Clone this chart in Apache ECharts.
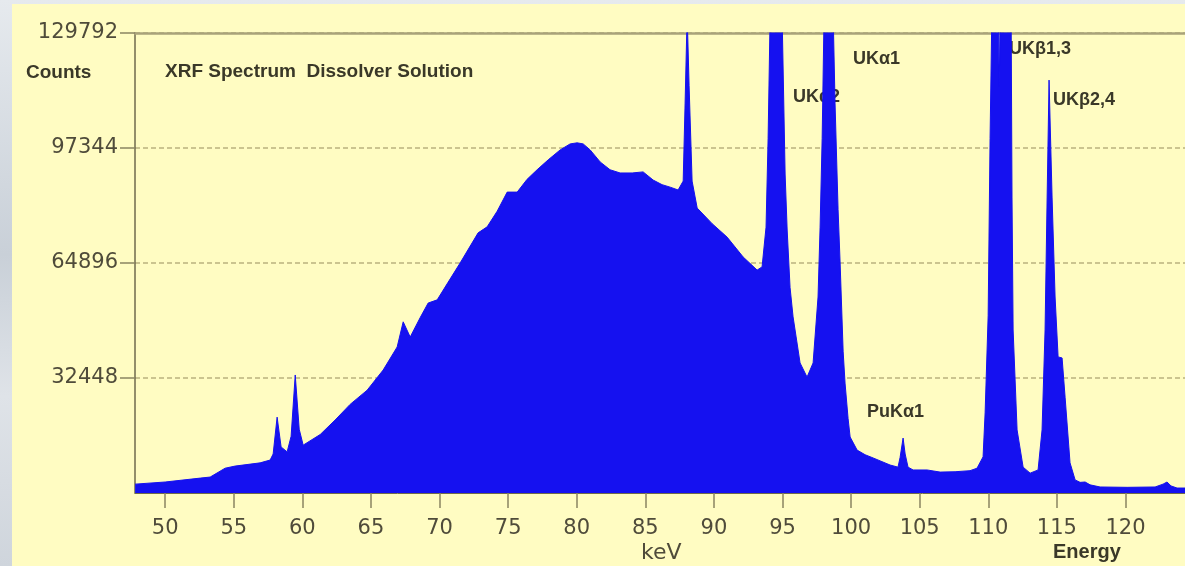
<!DOCTYPE html>
<html>
<head>
<meta charset="utf-8">
<script src="https://cdn.jsdelivr.net/npm/echarts@6/dist/echarts.min.js"></script>
<style>
  html, body { margin: 0; padding: 0; width: 1185px; height: 566px; overflow: hidden;
    background: linear-gradient(180deg, #e6eaee 0%, #c9d0d8 45%, #dfe3e8 70%, #cfd5dc 100%); }
  #panel { position: absolute; left: 12px; top: 4px; right: 0; bottom: 0; background: #fffcc2; }
  #chart { position: absolute; left: 0; top: 0; width: 1185px; height: 566px; }
</style>
</head>
<body>
<div id="panel"></div>
<div id="chart"></div>
<script>
// ---- data ----
const energyKeV = [
  47.81, 50.0, 52.55, 53.28, 54.37, 55.10, 56.92, 57.65, 57.87, 58.16, 58.45, 58.89, 59.18, 59.48, 59.77,
  60.06, 61.30, 62.39, 63.48, 64.72, 65.89, 66.91, 67.35, 67.86, 68.59, 69.17, 69.83, 70.63, 71.50,
  72.81, 73.47, 74.20, 74.93, 75.66, 76.38, 77.11, 77.92, 78.79, 79.52, 80.03, 80.47, 80.98, 81.71,
  82.43, 83.16, 84.04, 84.84, 85.57, 86.22, 86.81, 87.39, 87.76, 87.90, 88.05, 88.19, 88.41, 88.78,
  89.87, 90.96, 92.13, 93.15, 93.51, 93.80, 93.95, 94.10, 94.53, 94.97, 95.19, 95.34, 95.55, 95.77,
  96.28, 96.79, 97.23, 97.59, 97.74, 97.89, 98.03, 98.25, 98.61, 98.83, 99.05, 99.20, 99.42, 99.56,
  99.78, 99.93, 100.44, 101.02, 101.60, 102.84, 103.42, 103.57, 103.79, 103.94, 104.15, 104.52,
  105.54, 106.49, 107.58, 108.67, 109.18, 109.62, 109.77, 109.99, 110.13, 110.28, 110.57, 110.72, 110.80,
  110.88, 111.01, 111.37, 111.66, 111.73, 111.81, 112.10, 112.54, 113.05, 113.63, 113.92, 114.14, 114.29,
  114.43, 114.65, 114.87, 115.09, 115.38, 115.60, 115.96, 116.33, 116.69, 117.06, 117.42, 118.15,
  120.12, 122.16, 122.74, 123.03, 123.32, 123.76, 124.34
];
const counts = [
  2500, 3100, 4200, 4500, 7000, 7600, 8500, 9300, 11000, 21400, 13000, 11600, 16000, 33300, 18000,
  13500, 16500, 20600, 25000, 29000, 34700, 41200, 48300, 44000, 49500, 53600, 54500, 59500, 64900,
  73400, 75100, 79500, 84900, 84900, 88500, 91200, 94000, 96800, 98500, 98800, 98500, 96800, 93400,
  91200, 90300, 90300, 90600, 88300, 87000, 86300, 85500, 88000, 110000, 135000, 115000, 88000, 80400,
  76000, 72200, 66600, 62900, 63800, 75000, 100000, 135000, 160000, 135000, 90000, 74200, 58000, 49700,
  36700, 32700, 36700, 55300, 75000, 100000, 135000, 180000, 150000, 110000, 80000, 64900, 40000, 31000,
  21000, 15800, 12100, 10800, 9900, 7900, 7300, 10000, 15500, 11000, 7300, 6500,
  6500, 5900, 6000, 6300, 7000, 10200, 22600, 50000, 100000, 140000, 150000, 140000, 114600,
  140000, 150000, 170000, 140000, 83500, 46000, 17800, 7300, 5600, 6500, 17800, 46000, 83500,
  116500, 83500, 55300, 38400, 38100, 27000, 8500, 3700, 3000, 3100, 2300, 1700,
  1600, 1700, 2500, 3100, 2000, 1400, 1400
];
const xTickValues = [50, 55, 60, 65, 70, 75, 80, 85, 90, 95, 100, 105, 110, 115, 120];
const yTickValues = [32448, 64896, 97344, 129792];
const yMax = 129792;
const yStep = 32448;
const peakLabels = [
  { text: 'UK\u03b11',   left: 853,  top: 50 },
  { text: 'UK\u03b12',   left: 793,  top: 88 },
  { text: 'UK\u03b21,3', left: 1009, top: 40 },
  { text: 'UK\u03b22,4', left: 1053, top: 91 },
  { text: 'PuK\u03b11',  left: 867,  top: 403 }
];

const seriesData = energyKeV.map((e, i) => [e, counts[i]]);

const chart = echarts.init(document.getElementById('chart'), null, { renderer: 'canvas' });
const axisCol = '#6f6a4c';
const gridCol = '#cbc48f';
const labelCol = '#4f4b3a';

const graphicEls = [
  { type: 'text', left: 26, top: 63, z: 1,
    style: { text: 'Counts', font: 'bold 19px "Liberation Sans", Arial, sans-serif', fill: '#3a3828' } },
  { type: 'text', left: 165, top: 62, z: 1,
    style: { text: 'XRF Spectrum  Dissolver Solution', font: 'bold 19px "Liberation Sans", Arial, sans-serif', fill: '#3a3828' } },
  { type: 'text', left: 641, top: 542, z: 1,
    style: { text: 'keV', font: '22px "DejaVu Sans", Verdana, sans-serif', fill: labelCol } },
  { type: 'text', left: 1053, top: 542, z: 1,
    style: { text: 'Energy', font: 'bold 20px "Liberation Sans", Arial, sans-serif', fill: '#3a3828' } }
];
peakLabels.forEach(p => graphicEls.push({
  type: 'text', left: p.left, top: p.top, z: 1,
  style: { text: p.text, font: 'bold 18px "Liberation Sans", Arial, sans-serif', fill: '#3a3828' }
}));

chart.setOption({
  backgroundColor: 'transparent',
  animation: false,
  grid: { left: 135, top: 33, right: 0, bottom: 73, show: false },
  xAxis: [{
    type: 'value',
    min: 47.8,
    max: 124.34,
    position: 'bottom',
    axisLine: { show: true, lineStyle: { color: axisCol, width: 1 } },
    axisTick: { show: true, length: 15, customValues: xTickValues, lineStyle: { color: '#8a8462', width: 1.5 } },
    axisLabel: { customValues: xTickValues, margin: 25, color: labelCol,
      fontFamily: '"DejaVu Sans", Verdana, sans-serif', fontSize: 21 },
    splitLine: { show: false }
  }, {
    type: 'value',
    min: 47.8,
    max: 124.34,
    position: 'top',
    axisLine: { show: true, lineStyle: { color: '#a9a27a', width: 2.5 } },
    axisTick: { show: false },
    axisLabel: { show: false },
    splitLine: { show: false }
  }],
  yAxis: {
    type: 'value',
    min: 0,
    max: yMax,
    interval: yStep,
    axisLine: { show: true, lineStyle: { color: axisCol, width: 1.5 } },
    axisTick: { show: true, length: 15, customValues: yTickValues, lineStyle: { color: '#8a8462', width: 1.5 } },
    axisLabel: { customValues: yTickValues, margin: 17, color: labelCol,
      formatter: v => String(Math.round(v)),
      fontFamily: '"DejaVu Sans", Verdana, sans-serif', fontSize: 21 },
    splitLine: { show: true, lineStyle: { color: gridCol, width: 2, type: [5, 3] } }
  },
  graphic: { elements: graphicEls },
  series: [{
    type: 'line',
    xAxisIndex: 0,
    data: seriesData,
    showSymbol: false,
    symbol: 'none',
    clip: true,
    z: 3,
    lineStyle: { color: '#1511f0', width: 1 },
    areaStyle: { color: '#1511f0', opacity: 1 }
  }]
});
</script>
</body>
</html>
